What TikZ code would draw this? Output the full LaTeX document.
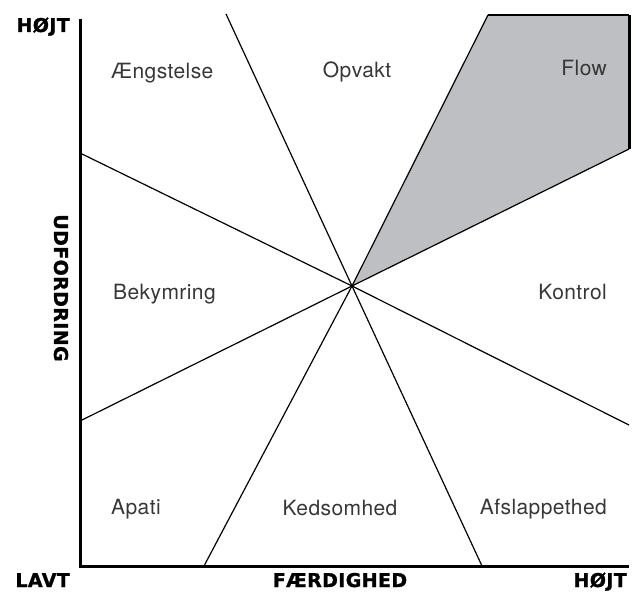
\documentclass[tikz,border=0pt]{standalone}
\usepackage{fontspec}
\setmainfont{TeX Gyre Heros}
\newfontfamily\regionfont[LetterSpace=2]{TeX Gyre Heros}
\newfontfamily\axisfont[LetterSpace=2,FakeBold=1.2]{DejaVu Sans}
\definecolor{flowgray}{RGB}{190,191,195}
\definecolor{labelgray}{RGB}{55,55,55}
\tikzset{
    region/.style={
           font={\regionfont\fontsize{21pt}{21}\selectfont},
           text=labelgray,
           inner sep=0pt,
           },
    axislabel/.style={
           font={\axisfont\bfseries\fontsize{19pt}{19}\selectfont},
           inner sep=0pt,
           },
    axisline/.style={line width=3pt},
    divider/.style={line width=1.2pt},
}

\begin{document}
\begin{tikzpicture}[x=1pt,y=-1pt]
\useasboundingbox (0,0) rectangle (636,591);

% end points of the axes and the dividing lines
\coordinate (CENTER) at (352,286);
\coordinate (ORIGIN) at (80,566);
\coordinate (YTOP) at (80,19);
\coordinate (XEND) at (629,566);
\coordinate (TOPA) at (226,14);
\coordinate (BOTA) at (482,566);
\coordinate (TOPB) at (488,15);
\coordinate (BOTB) at (204,566);
\coordinate (LEFTA) at (80,153);
\coordinate (RIGHTA) at (629,425);
\coordinate (LEFTB) at (80,421);
\coordinate (RIGHTB) at (629,149);
\coordinate (CORNER) at (629,15);

% Flow channel
\fill[flowgray] (CENTER) -- (TOPB) -- (CORNER) -- (RIGHTB) -- cycle;
\draw[divider] (TOPB) -- (CORNER);
\draw[axisline] (CORNER) -- (RIGHTB);

\draw[divider] (TOPA) -- (CENTER) -- (BOTA);
\draw[divider] (TOPB) -- (CENTER) -- (BOTB);
\draw[divider] (LEFTA) -- (CENTER) -- (RIGHTA);
\draw[divider] (LEFTB) -- (CENTER) -- (RIGHTB);

\draw[axisline] (YTOP) -- (ORIGIN) -- (XEND);

% regions
\node[region,anchor=base west] (ANGST) at (111,79) {Ængstelse};
\node[region,anchor=base] (OPVAKT) at (357,78) {Opvakt};
\node[region,anchor=base east] (FLOW) at (607,76) {Flow};
\node[region,anchor=base west] (BEKYMRING) at (113,299) {Bekymring};
\node[region,anchor=base east] (KONTROL) at (607,299) {Kontrol};
\node[region,anchor=base west] (APATI) at (111,514) {Apati};
\node[region,anchor=base] (KEDSOMHED) at (340,515) {Kedsomhed};
\node[region,anchor=base east] (AFSLAPPET) at (607,514) {Afslappethed};

% axis labels
\node[axislabel,anchor=base east] (YHIGH) at (70,32) {HØJT};
\node[axislabel,anchor=base east] (XLOW) at (70,587) {LAVT};
\node[axislabel,anchor=base] (XTITLE) at (340,587) {FÆRDIGHED};
\node[axislabel,anchor=base east] (XHIGH) at (627,587) {HØJT};
\node[axislabel,rotate=-90] (YTITLE) at (61,288) {UDFORDRING};

\end{tikzpicture}
\end{document}
